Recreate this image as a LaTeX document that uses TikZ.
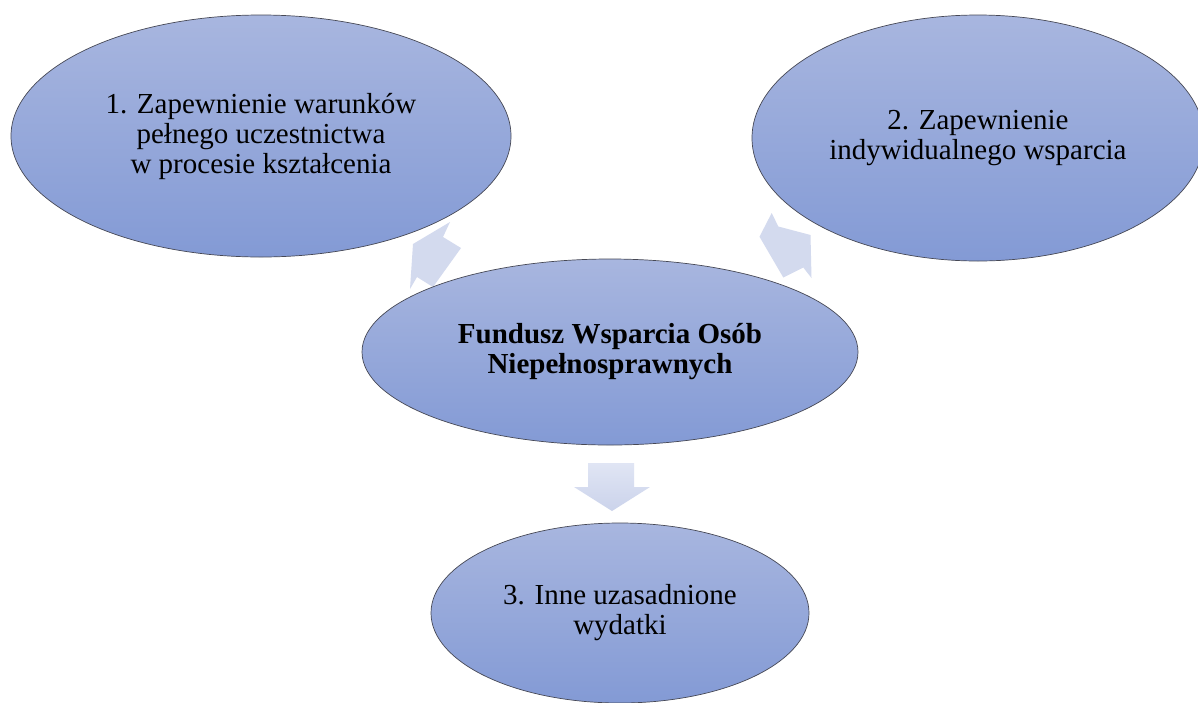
\documentclass[tikz,border=0pt]{standalone}
\usepackage{fontspec}
\setmainfont{Liberation Serif}
\usetikzlibrary{shapes.geometric}
\definecolor{eTop}{RGB}{168,182,223}
\definecolor{eBot}{RGB}{131,154,213}
\definecolor{arrFill}{RGB}{211,218,238}
\definecolor{arrTop}{RGB}{224,229,244}
\definecolor{arrBot}{RGB}{203,211,235}
\definecolor{eLine}{RGB}{70,72,85}
\begin{document}
\begin{tikzpicture}[x=1pt,y=-1pt,
  ell/.style={ellipse, draw=eLine, line width=0.7pt, top color=eTop, bottom color=eBot,
    inner sep=0pt, align=center, font=\fontsize{29}{30}\selectfont, text=black},
  blockarrow/.style={fill=arrFill, draw=none},
  downarrow/.style={top color=arrTop, bottom color=arrBot, draw=none}]
\useasboundingbox (0,0) rectangle (1198,702);
\fill[white] (0,0) rectangle (1198,702);
% block arrows (drawn below the ellipses)
\path[blockarrow] (450,222) -- (443,237) -- (461,248) -- (433,287) -- (417,277) -- (410,289) -- (413,244) -- cycle;
\path[blockarrow] (771.7,213) -- (778.3,226.5) -- (810.5,235) -- (811.5,278) -- (803.3,267.5) -- (783.3,277.5) -- (759.5,236.7) -- cycle;
\path[downarrow] (588,463) -- (634,463) -- (634,487) -- (650,487) -- (612,511) -- (574,487) -- (588,487) -- cycle;
% ellipses
\node[ell, minimum width=500pt, minimum height=242pt] (e1) at (261,136)
  {1. Zapewnienie warunków\\pełnego uczestnictwa\\w procesie kształcenia};
\node[ell, minimum width=452pt, minimum height=246pt] (e2) at (978,138)
  {2. Zapewnienie\\indywidualnego wsparcia};
\node[ell, minimum width=496pt, minimum height=186pt, font=\fontsize{29}{30}\selectfont\bfseries] (e0) at (610,352)
  {Fundusz Wsparcia Osób\\Niepełnosprawnych};
\node[ell, minimum width=378pt, minimum height=180pt] (e3) at (620,613)
  {3. Inne uzasadnione\\wydatki};
\end{tikzpicture}
\end{document}
